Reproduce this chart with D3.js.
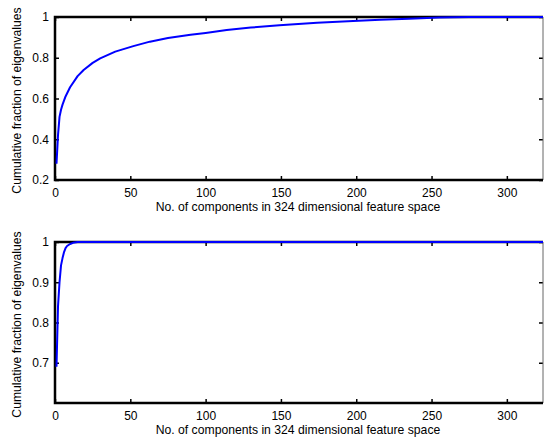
<!DOCTYPE html>
<html>
<head>
<meta charset="utf-8">
<script src="https://cdn.jsdelivr.net/npm/d3@7"></script>
<style>
  body { margin: 0; background: #fff; }
  svg { display: block; font-family: "Liberation Sans", Arial, sans-serif; }
</style>
</head>
<body>
<svg id="canvas"></svg>
<script>
// top panel: cumulative fraction of eigenvalues
let topComponents = [1, 2, 3, 4, 5, 7, 10, 15, 19, 25, 30, 40, 52, 63, 75, 90, 100, 114, 130, 149, 174, 198, 216, 235, 255, 275, 324];
let topFraction = [0.28, 0.42, 0.51, 0.545, 0.57, 0.61, 0.655, 0.71, 0.74, 0.775, 0.797, 0.83, 0.857, 0.879, 0.897, 0.913, 0.922, 0.936, 0.948, 0.96, 0.972, 0.98, 0.986, 0.992, 0.997, 1.0, 1.0];

// bottom panel
let bottomComponents = [1, 2, 3, 4, 5, 6, 7, 8, 10, 12, 15, 324];
let bottomFraction = [0.69, 0.84, 0.9, 0.942, 0.96, 0.975, 0.985, 0.99, 0.995, 0.998, 1.0, 1.0];

let xTicks = [0, 50, 100, 150, 200, 250, 300];
let topYTicks = [0.2, 0.4, 0.6, 0.8, 1];
let bottomYTicks = [0.7, 0.8, 0.9, 1];

let xTitle = "No. of components in 324 dimensional feature space";
let yTitle = "Cumulative fraction of eigenvalues";

let width = 544;
let height = 438;

let canvas = d3.select("#canvas").attr("width", width).attr("height", height);

let drawPanel = (box, xs, ys, yDomain, yTicks) => {
  let xScale = d3.scaleLinear().domain([0, 324]).range([box.left, box.right]);
  let yScale = d3.scaleLinear().domain(yDomain).range([box.bottom, box.top]);

  let g = canvas.append("g");

  // inward ticks on all four sides
  let tick = 4;
  let fmt = (d) => d3.format("~g")(d);

  let xb = g.append("g").attr("transform", "translate(0," + box.bottom + ")")
    .call(d3.axisBottom(xScale).tickValues(xTicks).tickSizeInner(-tick).tickSizeOuter(0).tickPadding(8).tickFormat(fmt));
  let xt = g.append("g").attr("transform", "translate(0," + box.top + ")")
    .call(d3.axisTop(xScale).tickValues(xTicks).tickSizeInner(-tick).tickSizeOuter(0).tickFormat(""));
  let yl = g.append("g").attr("transform", "translate(" + box.left + ",0)")
    .call(d3.axisLeft(yScale).tickValues(yTicks).tickSizeInner(-tick).tickSizeOuter(0).tickPadding(6).tickFormat(fmt));
  let yr = g.append("g").attr("transform", "translate(" + box.right + ",0)")
    .call(d3.axisRight(yScale).tickValues(yTicks).tickSizeInner(-tick).tickSizeOuter(0).tickFormat(""));

  [xb, xt, yl, yr].forEach((a) => {
    a.select(".domain").remove();
    a.selectAll(".tick line").attr("stroke", "#000").attr("stroke-width", 1.5);
    a.selectAll("text").attr("font-size", 12).attr("fill", "#000")
      .attr("font-family", "'Liberation Sans', Arial, sans-serif");
  });

  // frame: heavy left/bottom/top, thin right
  g.append("line").attr("x1", box.right).attr("x2", box.right).attr("y1", box.top).attr("y2", box.bottom)
    .attr("stroke", "#666").attr("stroke-width", 1);
  g.append("path")
    .attr("d", "M" + box.right + "," + box.top + "H" + box.left + "V" + box.bottom + "H" + box.right)
    .attr("fill", "none").attr("stroke", "#000").attr("stroke-width", 2.5);

  let line = d3.line().x((d, i) => xScale(xs[i])).y((d) => yScale(d));
  g.append("path").datum(ys).attr("d", line)
    .attr("fill", "none").attr("stroke", "#0000ff").attr("stroke-width", 2)
    .attr("stroke-linejoin", "round");

  g.append("text").attr("x", (box.left + box.right) / 2 - 1).attr("y", box.bottom + 31)
    .attr("text-anchor", "middle").attr("font-size", 12.2).text(xTitle);

  g.append("text")
    .attr("transform", "translate(21," + ((box.top + box.bottom) / 2 + 2) + ") rotate(-90)")
    .attr("text-anchor", "middle").attr("font-size", 12.2).text(yTitle);
};

drawPanel({ left: 55, right: 543, top: 17, bottom: 180 }, topComponents, topFraction, [0.2, 1], topYTicks);
drawPanel({ left: 55, right: 543, top: 242, bottom: 403 }, bottomComponents, bottomFraction, [0.6, 1], bottomYTicks);
</script>
</body>
</html>
